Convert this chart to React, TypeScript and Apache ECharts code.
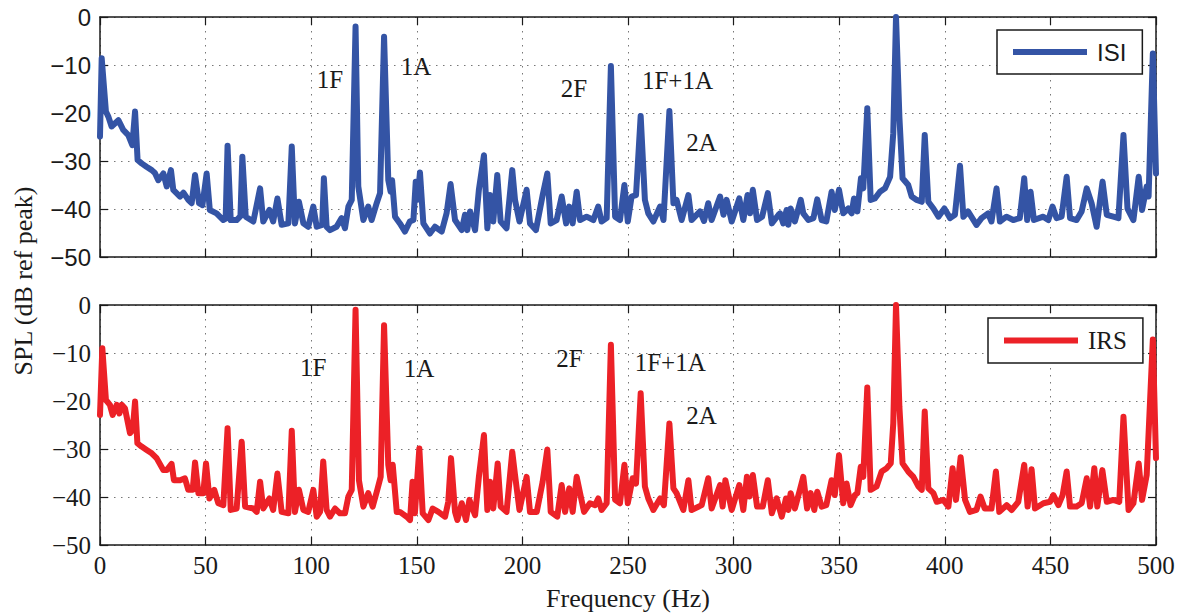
import React, { useEffect, useRef } from "react";
import * as echarts from "echarts";

const xTicks = { min: 0, max: 500, interval: 50 };
const yTicks = { min: -50, max: 0, interval: 10 };

const isiPoints: [number, number][] = [
  [0,-24.9],[0.8,-8.6],[2.8,-19.7],[4,-20.8],[5.5,-22.8],[8.7,-21.5],[11,-23.5],[13.4,-24.6],[15.3,-26.7],[16.6,-19.7],[17.8,-29.8],[19.7,-30.5],[22,-31.2],[24.5,-31.9],[26,-32.5],[27.6,-34],[30,-32.6],[31.6,-35.3],[33.6,-31.9],[34.7,-36],[37.9,-37.4],[39.5,-36.6],[41.8,-38.1],[43.4,-38.8],[45,-32.9],[46.9,-38.8],[48.5,-39.2],[50.5,-32.6],[52,-40.2],[55.2,-40.9],[58.4,-42.3],[59.5,-42],[60.4,-26.8],[61.9,-42.3],[64.7,-42.3],[66.5,-41.5],[67.4,-29.1],[69,-41.6],[72.6,-42.6],[75.8,-35.7],[77.3,-42.6],[80.2,-40.2],[82,-42.6],[84,-37.8],[86,-43.3],[89.2,-43],[90.8,-27],[92.3,-43],[94.2,-38.5],[96.3,-43],[98.6,-43.7],[101,-39.5],[102.6,-43.7],[105.2,-43.3],[106,-33.6],[107.3,-43.7],[108.9,-44.4],[112,-43.7],[114.4,-41.9],[116,-44],[117.6,-39.5],[119.2,-38.1],[121,-2],[122.3,-35.3],[124.7,-42.3],[127,-39.5],[128.6,-42.3],[131,-38.8],[132.6,-36.7],[134.5,-4.1],[136.5,-34],[137.6,-36.4],[138.3,-34],[139.7,-41.6],[142,-43],[144.4,-44.7],[146.7,-42.6],[148.4,-42.3],[149.5,-34.3],[150.3,-38.1],[151.5,-32.4],[153.1,-43],[156.2,-45.1],[158.6,-43.7],[161.8,-44.7],[164.1,-40.9],[166,-34.8],[168.1,-42.3],[171.3,-44.4],[172.8,-41.2],[173.9,-44.4],[175.2,-40.5],[177.6,-44.4],[179.4,-36],[181.8,-28.8],[183.4,-44],[184.7,-37.1],[186.2,-42.6],[188.1,-32.9],[189.7,-42.6],[192.5,-44],[195.2,-31.9],[196.5,-38.1],[198.6,-42.6],[202,-36],[203.6,-43],[206.4,-44.4],[209.6,-37.1],[211.8,-32.6],[213.4,-43],[216.2,-42.3],[218.6,-37.4],[220.7,-43],[222.2,-39.5],[223.8,-43],[225.7,-36.4],[227.3,-42.3],[230.4,-41.6],[233.6,-42.3],[235.9,-39.5],[237.5,-42.6],[239.9,-41.9],[241.9,-10.2],[243.9,-41.6],[246.2,-42.3],[248.3,-35],[249.9,-42.6],[251.7,-37.4],[253.8,-37.1],[256,-20.6],[258,-38.1],[259.6,-40.9],[262,-42.6],[265.2,-39.5],[266.8,-42.3],[269.6,-19.6],[271.5,-38.8],[273,-38.1],[275.4,-42.3],[278.6,-37.1],[280.1,-42.3],[284.1,-40.5],[286,-42.5],[288,-38.8],[289.6,-42.3],[293.6,-37.4],[295.2,-41.2],[296.7,-38.1],[299.1,-42.6],[302.7,-37.8],[304.6,-42.3],[306.6,-37.1],[307.8,-40.9],[309.1,-36],[311.1,-42.3],[313.5,-41.6],[316.2,-36.7],[318.1,-43],[321.3,-41.2],[322,-40.9],[323.5,-43],[325.1,-40.2],[325.9,-43.3],[327,-39.9],[329,-42.6],[331.8,-38.1],[333,-40.9],[335.4,-42.3],[337.8,-41.9],[339.6,-38],[341.7,-42.3],[343.9,-42.6],[346.4,-36.4],[347.9,-40.2],[349.9,-36],[351.9,-40.9],[354.3,-39.9],[355.9,-40.9],[357,-37.8],[358.6,-40.5],[360.3,-33.6],[361.4,-35.7],[363.3,-19],[364.9,-38.1],[366.9,-37.8],[369.3,-36.4],[371.7,-35.7],[374.1,-33.3],[375.6,-24.2],[376.9,0],[378.5,-20.8],[380,-33.6],[382.7,-35],[384.3,-37.4],[386.7,-38.1],[389.1,-38.5],[390.5,-24.6],[392.2,-38.5],[394.6,-39.9],[397,-41.6],[399.8,-39.9],[402.5,-41.9],[404.8,-41.2],[407.2,-31],[408.8,-41.6],[411,-40.5],[415,-43.3],[417.4,-41.9],[420.5,-40.9],[422.1,-42.6],[424.5,-35.7],[426.1,-42.6],[429.2,-41.6],[432.4,-42.3],[435.5,-41.9],[437.6,-33.6],[439,-42.3],[440.6,-36.4],[442.2,-42.3],[446.6,-41.6],[449,-42.3],[451,-39.5],[452.9,-41.9],[455.3,-41.6],[457.7,-33.3],[459.3,-41.9],[462.4,-42.3],[464.8,-40.5],[467.2,-35.7],[469.5,-38.8],[471.9,-43.7],[474.7,-34.3],[476.7,-41.2],[479.8,-41.6],[482.2,-41.9],[484.6,-24.6],[486.5,-39.9],[489.3,-42.3],[491.8,-33.3],[493.4,-40.2],[495.6,-35.3],[496.5,-37.4],[498.5,-7.6],[500,-32.6]
];

const irsPoints: [number, number][] = [
  [0,-22.9],[1.1,-9],[2.8,-19.8],[4.7,-20.8],[6,-22.9],[7.9,-20.8],[9.2,-22.6],[10.3,-20.8],[11.8,-21.5],[14.2,-26.7],[15.5,-26],[16.6,-20.1],[17.7,-28.8],[19.7,-29.5],[22.1,-30.2],[24.5,-30.9],[26.8,-31.9],[30,-34.4],[31.6,-34.4],[33.9,-33.1],[35,-36.5],[37.9,-36.5],[40.2,-36.1],[41.8,-38.5],[43.9,-38.5],[45,-32.8],[46.6,-39.2],[48.9,-39.2],[50.2,-33],[51.8,-40.3],[54.1,-38.5],[56,-41.3],[58.4,-41.7],[60.4,-25.7],[61.9,-42.7],[64.7,-42.4],[67.1,-28.5],[68.7,-42],[72.6,-42.4],[74.2,-43.1],[75.8,-36.8],[77.3,-42.4],[80.2,-40.3],[82,-42.7],[84,-35.1],[86,-43.1],[89.2,-43.4],[90.8,-26.2],[92.3,-43.1],[94.2,-38.5],[96.3,-42.7],[98.6,-43.1],[101,-38.5],[102.6,-44.1],[104.2,-43.1],[105.7,-32.6],[107.3,-42.7],[108.9,-44.1],[111.3,-42.4],[113.6,-43.4],[116,-43.4],[117.6,-39.9],[119.2,-38.5],[121,-1],[122.6,-36.5],[124.7,-42],[127,-39.2],[129.1,-42],[131.3,-38.5],[132.9,-35.8],[134.5,-4.2],[136.5,-33.3],[137.6,-36.5],[138.6,-33.3],[140.5,-43.1],[142,-43.1],[145.2,-44.1],[146.8,-44.8],[148,-36.8],[149.1,-43.4],[151.2,-29.9],[152.8,-43.4],[155.5,-44.8],[157.5,-42.4],[160.2,-43.1],[163.4,-44.1],[164.9,-41],[166.2,-31.9],[168.1,-43.1],[169.2,-44.8],[171.3,-41.3],[173.3,-44.8],[174.9,-40.6],[177.6,-43.8],[179.4,-35.8],[181.8,-27.1],[183.4,-42.7],[184.7,-36.8],[186.2,-42.4],[188.3,-33],[189.7,-42],[192.5,-43.1],[195.2,-30.6],[196.5,-35.4],[198.6,-42.7],[202,-35.8],[203.6,-43.1],[206.8,-43.1],[209.6,-36.8],[211.8,-30.1],[213.4,-43.1],[216.5,-44.1],[218.6,-37.5],[220.2,-43.1],[222.2,-38.2],[223.8,-43.1],[225.7,-35.8],[227.3,-39.2],[229.2,-43.1],[232,-41.3],[234.4,-41.7],[235.9,-40.3],[237.5,-42.7],[239.9,-41.3],[241.9,-8.3],[243.9,-40.6],[246.2,-41.3],[248.3,-33.3],[249.9,-41.3],[252.2,-36.1],[253.8,-37.2],[256,-18.4],[258,-37.8],[259.6,-40.3],[262,-42.7],[265.2,-40.3],[267,-41.7],[269.6,-24.7],[271.5,-38.2],[273,-39.2],[276.2,-42.7],[278.6,-36.5],[280.1,-42.7],[284.9,-41.7],[288,-36.1],[289.6,-42.4],[293.6,-37.5],[294.8,-42],[296.1,-36.5],[299.1,-42.7],[302.7,-37.5],[304.6,-42.7],[306.3,-35.8],[307.5,-39.9],[309.1,-35.4],[311.1,-42],[313.8,-42],[316.2,-36.5],[318.1,-43.4],[320.4,-40.3],[322.8,-44.1],[324.8,-40.3],[325.9,-42.7],[327,-39.2],[329,-42.4],[331.4,-38.5],[333,-35.8],[334.8,-42.4],[336.5,-39.2],[338.2,-42.7],[339.6,-38.9],[341.7,-42],[343.9,-41.7],[346.4,-36.5],[347.9,-39.6],[349.9,-31.3],[351.9,-41.3],[353.5,-37.2],[355.4,-41.7],[357.4,-39.6],[358.6,-39.2],[360.2,-33.7],[361.4,-35.8],[363.3,-17.2],[364.9,-38.5],[367.7,-37.8],[370.1,-34.7],[372.5,-34],[374.4,-33],[375.6,-24.7],[376.9,0],[378.5,-21.2],[380,-33],[382.7,-34.7],[385.1,-35.8],[387.5,-37.8],[389.1,-38.5],[390.5,-22.2],[392.2,-38.2],[394.6,-39.2],[396.2,-41],[399.3,-40.6],[401.7,-42],[403.7,-34],[405.3,-40.6],[407.5,-31.7],[409.6,-40.6],[411.9,-43.1],[415,-42.7],[416.9,-39.9],[418.9,-42.4],[422.1,-42.4],[424.2,-34.7],[425.8,-43.1],[429.3,-41.7],[431.7,-42.7],[434.8,-41],[437.6,-33.3],[439.2,-42],[441.1,-34.2],[442.7,-42.4],[446.7,-41.3],[449.8,-41],[451.4,-39.6],[453.8,-41.7],[455.8,-39.6],[457.7,-34.7],[459.3,-42],[462.4,-42],[464.8,-41.3],[467.2,-36.1],[468.8,-42],[470.8,-34],[472.2,-42],[474.6,-34.4],[476.7,-41],[479.8,-40.6],[482.6,-41],[484.6,-23.3],[487,-42.7],[489.3,-41.3],[491.8,-33],[493.4,-40.6],[495.6,-35.4],[498.5,-7.2],[500,-31.9]
];

const isiNotes: [number, number, string][] = [
  [108.9, -13.1, "1F"], [149.6, -10.3, "1A"], [224.4, -14.8, "2F"], [273.4, -13.3, "1F+1A"], [284.8, -26.1, "2A"]
];
const irsNotes: [number, number, string][] = [
  [100.9, -13.0, "1F"], [151.0, -13.3, "1A"], [222.3, -11.1, "2F"], [270.0, -12.0, "1F+1A"], [284.8, -23.1, "2A"]
];

const SERIF = "'Liberation Serif', 'Times New Roman', serif";
const SANS = "'Liberation Sans', Arial, sans-serif";
const INK = "#1a1a1a";
const BLUE = "#3454a5";
const RED = "#ec2127";

const fmtY = (v: number) => (v < 0 ? "\u2212" + -v : String(v));

function xAxes(grid: number, labels: boolean) {
  const base = {
    type: "value" as const,
    gridIndex: grid,
    ...xTicks,
    axisLine: { show: true, onZero: false, lineStyle: { color: INK, width: 1.5 } },
    axisTick: { show: true, inside: true, length: 8, lineStyle: { color: INK, width: 1.2 } },
  };
  return [
    {
      ...base,
      position: "bottom",
      axisLabel: labels
        ? { show: true, fontFamily: SERIF, fontSize: 25, color: INK, margin: 8, formatter: (v: number) => String(v) }
        : { show: false },
      splitLine: { show: true, lineStyle: { color: "#777", width: 1, type: [1.5, 5.5] } },
    },
    {
      ...base,
      position: "top",
      axisLabel: { show: false },
      splitLine: { show: false },
    },
  ];
}

function yAxes(grid: number, font: string, size: number) {
  const base = {
    type: "value" as const,
    gridIndex: grid,
    ...yTicks,
    axisLine: { show: true, onZero: false, lineStyle: { color: INK, width: 1.5 } },
    axisTick: { show: true, inside: true, length: 8, lineStyle: { color: INK, width: 1.2 } },
  };
  return [
    {
      ...base,
      position: "left",
      axisLabel: { show: true, fontFamily: font, fontSize: size, color: INK, margin: 9, formatter: fmtY },
      splitLine: { show: true, lineStyle: { color: "#777", width: 1, type: [1.5, 5.5] } },
    },
    {
      ...base,
      position: "right",
      axisLabel: { show: false },
      splitLine: { show: false },
    },
  ];
}

function noteSeries(notes: [number, number, string][], axisIdx: number) {
  return {
    type: "scatter",
    xAxisIndex: axisIdx,
    yAxisIndex: axisIdx,
    symbolSize: 1,
    itemStyle: { opacity: 0 },
    silent: true,
    z: 5,
    data: notes.map(([f, d, t]) => ({ value: [f, d], name: t })),
    label: {
      show: true,
      position: "inside",
      formatter: (p: any) => p.name,
      fontFamily: SERIF,
      fontSize: 25,
      color: INK,
      opacity: 1,
      textBorderWidth: 0,
      textBorderColor: "transparent",
    },
  };
}

function legendBox(name: string, left: number, top: number, font: string, size: number) {
  return {
    data: [{ name, icon: "rect" }],
    left,
    top,
    orient: "horizontal",
    itemWidth: 74,
    itemHeight: 6,
    padding: [10, 16, 10, 16],
    borderColor: INK,
    borderWidth: 1.5,
    borderRadius: 0,
    backgroundColor: "#fff",
    selectedMode: false,
    textStyle: { fontFamily: font, fontSize: size, color: INK, padding: [0, 0, 0, 5], lineHeight: 22 },
  };
}

function lineSeries(name: string, points: [number, number][], axisIdx: number, color: string) {
  return {
    name,
    type: "line",
    xAxisIndex: axisIdx,
    yAxisIndex: axisIdx,
    data: points,
    symbol: "none",
    showSymbol: false,
    color,
    itemStyle: { color },
    lineStyle: { color, width: 6, join: "round", cap: "round" },
    emphasis: { disabled: true },
    z: 3,
  };
}

export default function App() {
  const ref = useRef<HTMLDivElement>(null);
  useEffect(() => {
    if (!ref.current) return;
    const chart = echarts.init(ref.current, undefined, { renderer: "svg" });
    chart.setOption({
      animation: false,
      backgroundColor: "#fff",
      grid: [
        { left: 100, top: 17, width: 1056, height: 240 },
        { left: 100, top: 305, width: 1056, height: 240 },
      ],
      xAxis: [...xAxes(0, false), ...xAxes(1, true)],
      yAxis: [...yAxes(0, SANS, 24), ...yAxes(1, SERIF, 25)],
      legend: [legendBox("ISI", 997, 30, SANS, 24), legendBox("IRS", 988, 318, SERIF, 25)],
      series: [
        lineSeries("ISI", isiPoints, 0, BLUE),
        lineSeries("IRS", irsPoints, 2, RED),
        noteSeries(isiNotes, 0),
        noteSeries(irsNotes, 2),
      ],
      graphic: [
        {
          type: "text",
          x: 23,
          y: 281,
          rotation: Math.PI / 2,
          style: {
            text: "SPL (dB ref peak)",
            font: `26px ${SERIF}`,
            fill: INK,
            textAlign: "center",
            textVerticalAlign: "middle",
          },
        },
        {
          type: "text",
          x: 628,
          y: 598,
          style: {
            text: "Frequency (Hz)",
            font: `26px ${SERIF}`,
            fill: INK,
            textAlign: "center",
            textVerticalAlign: "middle",
          },
        },
      ],
    });
    return () => chart.dispose();
  }, []);
  return (
    <div
      ref={ref}
      style={{ position: "absolute", left: 0, top: 0, width: 1182, height: 614, background: "#fff" }}
    />
  );
}
